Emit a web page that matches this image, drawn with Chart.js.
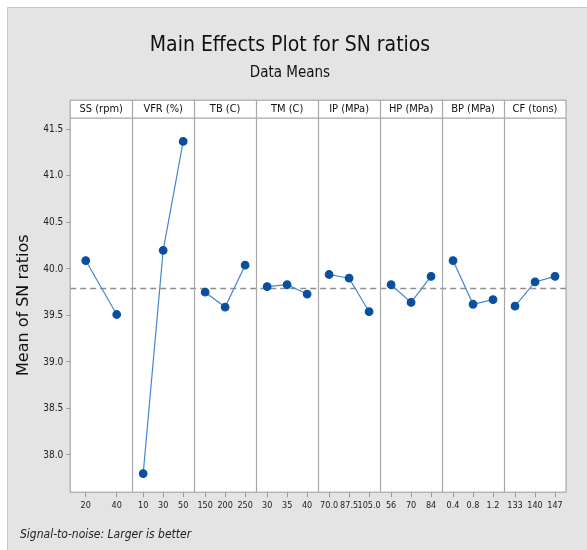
<!DOCTYPE html>
<html>
<head>
<meta charset="utf-8">
<script src="https://cdn.jsdelivr.net/npm/chart.js@4/dist/chart.umd.min.js"></script>
<style>
  html, body { margin: 0; padding: 0; background: #ffffff; }
  canvas { display: block; }
</style>
</head>
<body>
<canvas id="mainEffects" width="587" height="550"></canvas>
<script>
// factors and their levels
const factorNames = ['SS (rpm)', 'VFR (%)', 'TB (C)', 'TM (C)', 'IP (MPa)', 'HP (MPa)', 'BP (MPa)', 'CF (tons)'];
const levelLabels = [
    ['20', '40'],
    ['10', '30', '50'],
    ['150', '200', '250'],
    ['30', '35', '40'],
    ['70.0', '87.5', '105.0'],
    ['56', '70', '84'],
    ['0.4', '0.8', '1.2'],
    ['133', '140', '147']
];
// mean of SN ratios per level
const snMeans = [
    [40.09, 39.51],
    [37.80, 40.20, 41.37],
    [39.75, 39.59, 40.04],
    [39.81, 39.83, 39.73],
    [39.94, 39.90, 39.54],
    [39.83, 39.64, 39.92],
    [40.09, 39.62, 39.67],
    [39.60, 39.86, 39.92]
];
const grandMean = 39.79;
const yTicks = [38.0, 38.5, 39.0, 39.5, 40.0, 40.5, 41.0, 41.5];

const narrow = "'Liberation Sans Narrow', 'DejaVu Sans Condensed', 'Noto Sans', sans-serif";

// each panel is one unit wide on the x scale
const levelPos = (k, i, n) => n === 2 ? k + (i + 0.5) / 2 : k + (i + 0.55) / 3.1;

const tickPositions = [];
const tickText = {};
levelLabels.forEach((levels, k) => {
    levels.forEach((lab, i) => {
        const p = levelPos(k, i, levels.length);
        tickPositions.push(p);
        tickText[p.toFixed(4)] = lab;
    });
});

const datasets = snMeans.map((vals, k) => ({
    label: factorNames[k],
    data: vals.map((v, i) => ({ x: levelPos(k, i, vals.length), y: v })),
    borderColor: '#4585d0',
    borderWidth: 1.2,
    pointBackgroundColor: '#0a4f9f',
    pointBorderColor: '#0a4f9f',
    pointRadius: 3.8,
    pointHoverRadius: 3.8,
    tension: 0
}));

datasets.unshift({
    label: 'mean',
    data: [{ x: 0, y: grandMean }, { x: 8, y: grandMean }],
    borderColor: '#8e8e8e',
    borderWidth: 1.6,
    borderDash: [6, 4],
    pointRadius: 0,
    order: 10
});

const panelPlugin = {
    id: 'panels',
    beforeDraw(chart) {
        const { ctx, chartArea: a, width, height } = chart;
        ctx.save();
        ctx.fillStyle = '#ffffff';
        ctx.fillRect(0, 0, width, height);
        ctx.fillStyle = '#e4e4e4';
        ctx.fillRect(7, 7, width - 7, height - 7);
        ctx.strokeStyle = '#c6c6c6';
        ctx.lineWidth = 1;
        ctx.beginPath();
        ctx.moveTo(7.5, height);
        ctx.lineTo(7.5, 7.5);
        ctx.lineTo(width, 7.5);
        ctx.stroke();
        ctx.fillStyle = '#ffffff';
        ctx.fillRect(a.left, a.top - 18, a.right - a.left, a.bottom - a.top + 18);
        ctx.restore();
    },
    afterDraw(chart) {
        const { ctx, chartArea: a, scales } = chart;
        const x = scales.x;
        const top = a.top - 18;
        ctx.save();
        ctx.strokeStyle = '#a8a8a8';
        ctx.lineWidth = 1.2;
        ctx.strokeRect(a.left, top, a.right - a.left, a.bottom - top);
        ctx.beginPath();
        ctx.moveTo(a.left, a.top);
        ctx.lineTo(a.right, a.top);
        for (let k = 1; k < factorNames.length; k++) {
            const px = Math.round(x.getPixelForValue(k)) + 0.5;
            ctx.moveTo(px, top);
            ctx.lineTo(px, a.bottom);
        }
        ctx.stroke();
        ctx.fillStyle = '#111';
        ctx.font = '11px ' + narrow;
        ctx.textAlign = 'center';
        ctx.textBaseline = 'middle';
        factorNames.forEach((name, k) => {
            const cx = (x.getPixelForValue(k) + x.getPixelForValue(k + 1)) / 2;
            ctx.fillText(name, cx, top + 9);
        });
        ctx.font = 'italic 12px ' + narrow;
        ctx.textAlign = 'left';
        ctx.fillStyle = '#222';
        ctx.fillText('Signal-to-noise: Larger is better', 20, 535);
        ctx.restore();
    }
};

new Chart(document.getElementById('mainEffects'), {
    type: 'line',
    data: { datasets },
    options: {
        responsive: false,
        animation: false,
        layout: { padding: { top: 33, left: 14, right: 21, bottom: 36 } },
        plugins: {
            legend: { display: false },
            tooltip: { enabled: false },
            title: {
                display: true,
                text: 'Main Effects Plot for SN ratios',
                color: '#111',
                font: { family: narrow, size: 21, weight: 'normal' },
                padding: { top: 0, bottom: 4 }
            },
            subtitle: {
                display: true,
                text: 'Data Means',
                color: '#111',
                font: { family: narrow, size: 15 },
                padding: { top: 2, bottom: 36 }
            }
        },
        scales: {
            x: {
                type: 'linear',
                min: 0,
                max: 8,
                afterBuildTicks(scale) {
                    scale.ticks = tickPositions.map(v => ({ value: v }));
                },
                ticks: {
                    autoSkip: false,
                    maxRotation: 0,
                    color: '#222',
                    font: { family: narrow, size: 9 },
                    padding: 3,
                    callback: v => tickText[Number(v).toFixed(4)]
                },
                grid: { drawOnChartArea: false, tickLength: 5, color: '#999' },
                border: { display: false }
            },
            y: {
                min: 37.6,
                max: 41.62,
                afterBuildTicks(scale) {
                    scale.ticks = yTicks.map(v => ({ value: v }));
                },
                ticks: {
                    color: '#222',
                    font: { family: narrow, size: 10 },
                    padding: 3,
                    callback: v => Number(v).toFixed(1)
                },
                grid: { drawOnChartArea: false, tickLength: 4, color: '#999' },
                border: { display: false },
                title: {
                    display: true,
                    text: 'Mean of SN ratios',
                    color: '#111',
                    font: { family: "'DejaVu Sans', sans-serif", size: 16 },
                    padding: { top: 0, bottom: 7 }
                }
            }
        }
    },
    plugins: [panelPlugin]
});
</script>
</body>
</html>
